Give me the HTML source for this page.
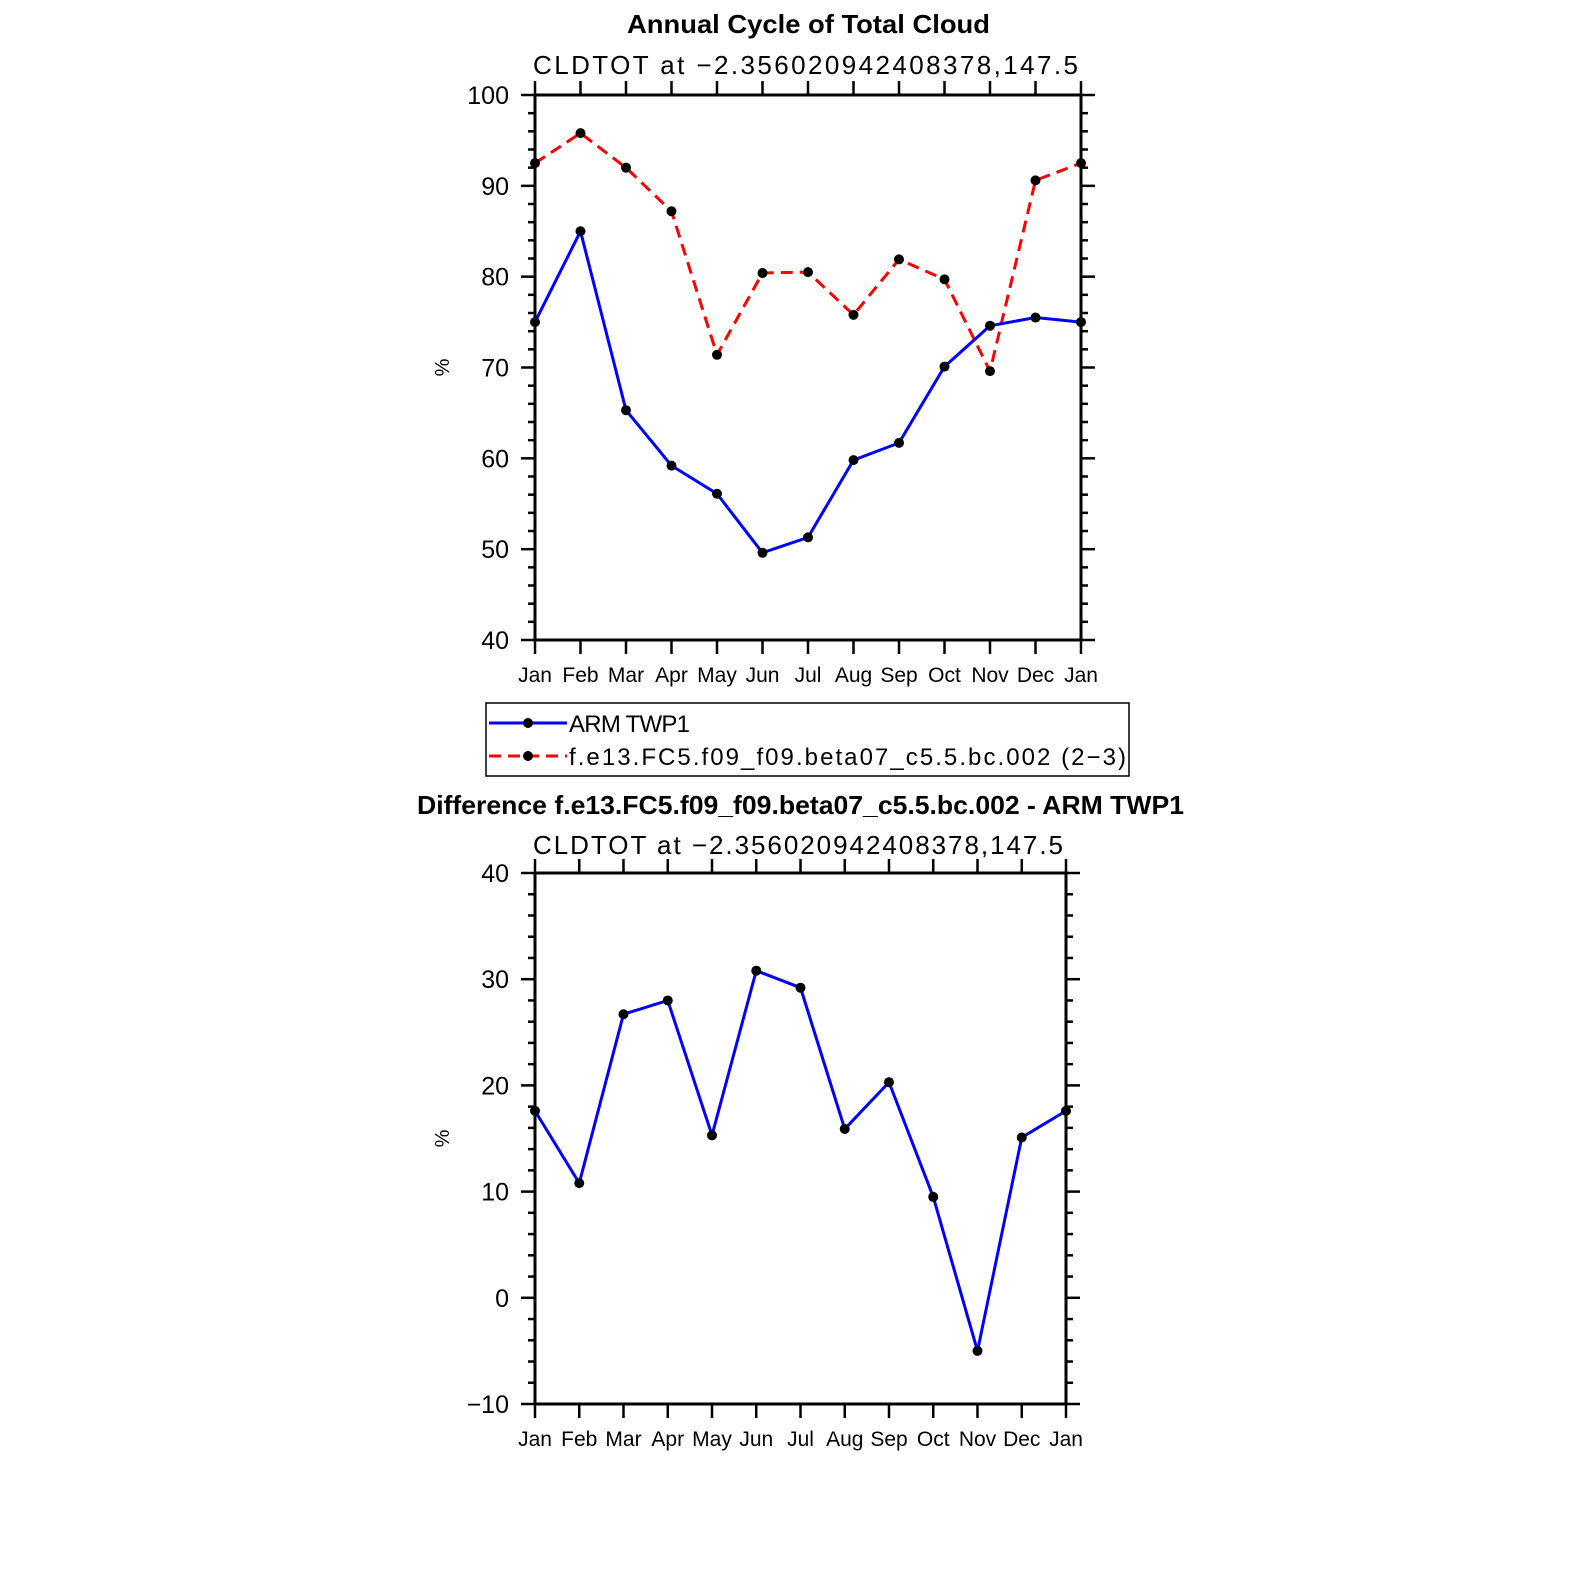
<!DOCTYPE html>
<html><head><meta charset="utf-8"><style>
body{margin:0;background:#fff;}
svg text{font-family:"Liberation Sans","DejaVu Sans",sans-serif;}
</style></head><body>
<svg id="c" width="1574" height="1574" xmlns="http://www.w3.org/2000/svg"></svg>
<script>
const months = ["Jan","Feb","Mar","Apr","May","Jun","Jul","Aug","Sep","Oct","Nov","Dec","Jan"];
const armTop = [75.0,85.0,65.3,59.2,56.1,49.6,51.3,59.8,61.7,70.1,74.6,75.5,75.0];
const modelTop = [92.5,95.8,92.0,87.2,71.4,80.4,80.5,75.8,81.9,79.7,69.6,90.6,92.5];
const diffVals = [17.6,10.8,26.7,28.0,15.3,30.8,29.2,15.9,20.3,9.5,-5.0,15.1,17.6];
const topTicks = [40,50,60,70,80,90,100];
const botTicks = [-10,0,10,20,30,40];

const svg = document.getElementById('c');
const NS = "http://www.w3.org/2000/svg";
function mk(tag, attrs, parent){
  const e = document.createElementNS(NS, tag);
  for (const k in attrs) e.setAttribute(k, attrs[k]);
  (parent||svg).appendChild(e);
  return e;
}
function txt(s, attrs, parent){ const t = mk('text', attrs, parent); t.textContent = s; return t; }

function panel(name, x0, x1, y0, y1, ymin, ymax, ticks, series, title, tx, tlen, subtitle, slen, titleY, subY){
  const g = mk('g', {});
  
  
  const X = i => x0 + (x1 - x0) * i / (months.length - 1);
  const Y = v => y1 - (y1 - y0) * (v - ymin) / (ymax - ymin);
  const tt = txt(title, {x:tx, y:titleY, 'font-size':26, 'font-weight':'bold', textLength:tlen, lengthAdjust:'spacingAndGlyphs'}, g);
  
  
  const st = txt(subtitle, {x:533, y:subY, 'font-size':26, textLength:slen, lengthAdjust:'spacing'}, g);
  
  
  const fr = mk('rect', {x:x0, y:y0, width:x1-x0, height:y1-y0, fill:'none', stroke:'#000', 'stroke-width':3}, g);
  
  
  for (let v = ymin; v <= ymax + 0.001; v += 2) {
    const major = Math.abs(v % 10) < 0.001;
    const L = major ? 14 : 7;
    mk('line', {x1:x0-L, x2:x0, y1:Y(v), y2:Y(v), stroke:'#000', 'stroke-width':2.5}, g);
    mk('line', {x1:x1, x2:x1+L, y1:Y(v), y2:Y(v), stroke:'#000', 'stroke-width':2.5}, g);
  }
  ticks.forEach(v => {
    const t = txt(v < 0 ? '\u2212' + (-v) : String(v), {x:x0-26, y:Y(v)+9, 'text-anchor':'end', 'font-size':25}, g);
    
    
  });
  months.forEach((m, i) => {
    mk('line', {x1:X(i), x2:X(i), y1:y0-14, y2:y0, stroke:'#000', 'stroke-width':2.5}, g);
    mk('line', {x1:X(i), x2:X(i), y1:y1, y2:y1+14, stroke:'#000', 'stroke-width':2.5}, g);
    const t = txt(m, {x:X(i), y:y1+42, 'text-anchor':'middle', 'font-size':21}, g);
    
    
  });
  const yl = txt('%', {x:0, y:0, 'font-size':20, transform:`translate(${x0-86},${(y0+y1)/2}) rotate(-90)`, 'text-anchor':'middle'}, g);
  
  
  series.forEach(s => {
    const pts = s.vals.map((v, i) => X(i) + ',' + Y(v)).join(' ');
    const pl = mk('polyline', {points:pts, fill:'none', stroke:s.color, 'stroke-width':3, 'stroke-dasharray':s.dash||'none'}, g);
    
    
    s.vals.forEach((v, i) => {
      const c = mk('circle', {cx:X(i), cy:Y(v), r:5, fill:'#000'}, g);
      
      
    });
  });
}

panel('top-panel', 535, 1081, 95, 640, 40, 100, topTicks,
  [{name:'model', vals:modelTop, color:'#ff0000', dash:'12,7'}, {name:'arm-twp1', vals:armTop, color:'#0000ff'}],
  'Annual Cycle of Total Cloud', 627, 363, 'CLDTOT at \u22122.356020942408378,147.5', 545, 33, 74);
panel('bottom-panel', 535, 1066, 873, 1404, -10, 40, botTicks,
  [{name:'difference', vals:diffVals, color:'#0000ff'}],
  'Difference f.e13.FC5.f09_f09.beta07_c5.5.bc.002 - ARM TWP1', 417, 767, 'CLDTOT at \u22122.356020942408378,147.5', 530, 814, 854);

const lg = mk('g', {});


mk('rect', {x:486, y:703, width:643, height:73, fill:'none', stroke:'#000', 'stroke-width':1.5}, lg);
mk('line', {x1:489, x2:567, y1:723, y2:723, stroke:'#0000ff', 'stroke-width':3}, lg);
mk('circle', {cx:528, cy:723, r:5, fill:'#000'}, lg);
const l1 = txt('ARM TWP1', {x:569, y:732, 'font-size':24, textLength:121, lengthAdjust:'spacing'}, lg);


mk('line', {x1:489, x2:567, y1:756, y2:756, stroke:'#ff0000', 'stroke-width':3, 'stroke-dasharray':'12,7'}, lg);
mk('circle', {cx:528, cy:756, r:5, fill:'#000'}, lg);
const l2 = txt('f.e13.FC5.f09_f09.beta07_c5.5.bc.002 (2\u22123)', {x:569, y:765, 'font-size':24, textLength:557, lengthAdjust:'spacing'}, lg);


</script>
</body></html>
